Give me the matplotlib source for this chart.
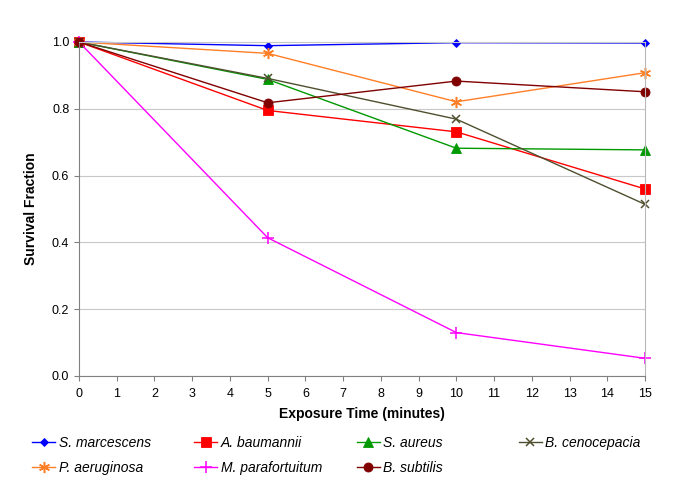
import matplotlib.pyplot as plt

plt.rcParams['font.family'] = ['Liberation Sans', 'DejaVu Sans']

minutes = [0, 5, 10, 15]

s_marcescens = [1.0, 0.989, 0.998, 0.997]
a_baumannii = [1.0, 0.795, 0.731, 0.560]
s_aureus = [1.0, 0.888, 0.682, 0.677]
b_cenocepacia = [1.0, 0.891, 0.769, 0.514]
p_aeruginosa = [1.0, 0.966, 0.821, 0.908]
m_parafortuitum = [1.0, 0.414, 0.130, 0.053]
b_subtilis = [1.0, 0.818, 0.883, 0.851]

names = ['S. marcescens', 'A. baumannii', 'S. aureus', 'B. cenocepacia',
         'P. aeruginosa', 'M. parafortuitum', 'B. subtilis']
series = [s_marcescens, a_baumannii, s_aureus, b_cenocepacia,
          p_aeruginosa, m_parafortuitum, b_subtilis]

# colour, marker, marker size
styles = [
    ('#0000ff', 'D', 4.2),
    ('#ff0000', 's', 6.5),
    ('#009900', '^', 7),
    ('#4f4f2f', 'x', 6),
    ('#ff7f27', (6, 2, 0), 8),
    ('#ff00ff', '+', 8),
    ('#800000', 'o', 6.5),
]

W, H = 685, 494
fig = plt.figure(figsize=(W / 100, H / 100), dpi=100)
ax = fig.add_axes([79 / W, 1 - 376 / H, (645 - 79) / W, (376 - 42) / H])

ax.set_axisbelow(True)
ax.yaxis.grid(True, color='#c8c8c8', lw=0.8)

handles = []
for name, ys, (c, m, ms) in zip(names, series, styles):
    thin = m in ('x', '+', (6, 2, 0))
    h, = ax.plot(minutes, ys, color=c, marker=m, markersize=ms, lw=1,
                 markeredgewidth=1.1 if thin else 0.6,
                 markeredgecolor=c, markerfacecolor=c, clip_on=False,
                 label=name)
    handles.append(h)

ax.set_xlim(0, 15)
ax.set_ylim(0, 1.0)
ax.set_xticks(range(0, 16))
ax.set_yticks([0, 0.2, 0.4, 0.6, 0.8, 1.0])
ax.set_yticklabels(['0.0', '0.2', '0.4', '0.6', '0.8', '1.0'])
ax.tick_params(labelsize=9, length=3.5, width=0.8, color='#808080', labelcolor='black')
ax.tick_params(axis='x', pad=5)

ax.spines['left'].set_color('#808080')
ax.spines['bottom'].set_color('#808080')
ax.spines['right'].set_color('#b8b8b8')
ax.spines['top'].set_color('#c8c8c8')

ax.set_xlabel('Exposure Time (minutes)', fontsize=10, fontweight='bold', labelpad=5)
ax.set_ylabel('Survival Fraction', fontsize=10, fontweight='bold', labelpad=10)

# legend laid out like Excel: equal-width columns, row by row
for i, h in enumerate(handles):
    row, col = divmod(i, 4)
    x = (32 + 162.3 * col) / W
    y = 1 - (443 + 25 * row) / H
    fig.legend(handles=[h], loc='center left', bbox_to_anchor=(x, y),
               frameon=False, borderpad=0, borderaxespad=0,
               prop={'style': 'italic', 'size': 10},
               handlelength=1.66, handletextpad=0.25)

fig.savefig('out.png', dpi=100)
